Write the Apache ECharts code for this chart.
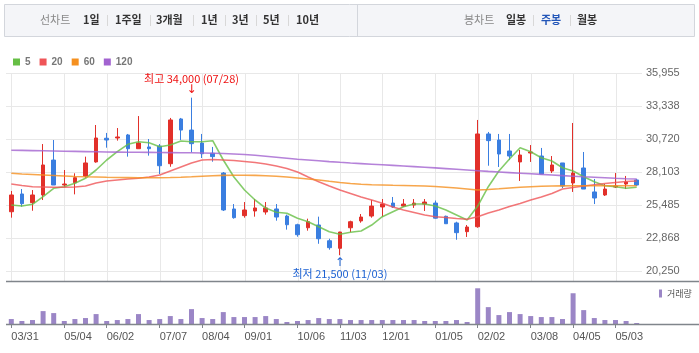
<!DOCTYPE html>
<html><head><meta charset="utf-8">
<script src="https://cdn.jsdelivr.net/npm/echarts@6/dist/echarts.min.js"></script>
<style>html,body{margin:0;padding:0;background:#fff}#c{width:699px;height:353px}</style>
</head><body><div id="c"></div>
<script>
const categories = ['03/31','04/07','04/14','04/21','04/28','05/04','05/12','05/19','05/26','06/02',
  '06/09','06/16','06/23','06/30','07/07','07/14','07/21','07/28','08/04','08/11',
  '08/18','08/25','09/01','09/08','09/15','09/22','09/29','10/06','10/13','10/20',
  '10/27','11/03','11/10','11/17','11/24','12/01','12/08','12/15','12/22','12/29',
  '01/05','01/12','01/19','01/26','02/02','02/09','02/16','02/23','03/02','03/08',
  '03/16','03/23','03/30','04/05','04/13','04/20','04/27','05/03','05/11','05/18'];
const tickIdx = [0,5,9,14,18,22,27,31,35,40,44,49,53,57];

const opens  = [24950,26360,25670,26280,29050,27070,27250,27780,28900,30780,
  30800,31040,29950,30090,30160,28760,32310,31430,30400,29590,
  28020,25170,24640,25010,24930,25170,24610,23920,23680,23900,
  22650,22050,23680,24220,24610,25330,25640,25400,25480,25560,
  25640,24590,24060,23370,23760,31120,30640,29770,28900,29610,
  29370,28180,28820,27230,28420,26520,26280,26910,27150,27470];
const closes = [26280,25590,26280,28660,27070,27150,27650,28820,30800,30640,
  30880,29950,30400,29950,28600,32230,31430,30350,29550,29320,
  25090,24480,25090,25250,25250,24530,23920,23130,24160,22810,
  22100,23340,24160,24530,25400,25560,25330,25560,25640,25720,
  24440,24000,23290,23740,31120,30590,29530,29370,29450,29690,
  27940,28660,26990,28020,26750,26040,26750,26990,27310,27070];
const lows   = [24480,25350,25030,25880,27070,26890,26330,27650,28840,30030,
  30590,29320,29950,29400,27940,28520,30640,29670,29210,28920,
  25010,24400,24480,24560,24720,24240,23530,22970,23450,22410,
  21940,21500,23340,24080,24480,24560,25250,25330,25250,25010,
  24400,24000,22730,22950,23680,28600,28500,29050,27390,28900,
  27940,28020,26830,26520,26750,25560,26200,26830,26750,26990];
const highs  = [26600,26750,26670,30320,30640,28260,28000,29320,31830,31200,
  31590,31120,32540,30720,30320,32390,32390,34000,31120,30090,
  28100,25560,25720,25960,25720,25560,24720,24000,24400,24560,
  22810,23360,24240,24770,25880,25960,26120,25960,25960,25960,
  25840,24640,24160,23900,32230,31280,31120,31120,29850,30240,
  30010,29370,28820,31990,29690,27550,27150,28020,27790,27550];

const ma5 = [25484,25405,25540,26143,26809,26936,27206,27602,28261,29054,
  29712,30299,30505,30426,30109,30244,30561,30505,30505,30585,
  29054,27705,26674,25881,25246,24905,24826,24429,24160,23763,
  23367,23160,23319,23422,23898,24556,24953,25350,25564,25564,
  25405,25088,24691,24295,25400,26936,28181,29133,30029,29712,
  29236,28974,28443,28181,27729,27332,27015,26936,26809,26888];
const ma20 = [27150,27031,26936,26912,26888,26888,26912,26991,27229,27388,
  27467,27547,27602,27705,27864,28181,28499,28816,29054,29093,
  29054,29014,28935,28855,28737,28578,28380,28102,27705,27332,
  26991,26674,26397,26119,25881,25619,25326,25088,24889,24691,
  24556,24492,24414,24350,24556,24850,25088,25365,25603,25881,
  26119,26397,26754,26872,26991,27095,27190,27269,27348,27388];
const ma60 = [27999,27943,27904,27864,27824,27785,27745,27721,27705,27682,
  27666,27658,27650,27650,27650,27666,27690,27721,27761,27801,
  27832,27840,27840,27832,27801,27761,27705,27626,27547,27467,
  27364,27269,27190,27134,27095,27071,27047,27031,27015,26991,
  26952,26896,26833,26754,26674,26714,26769,26833,26888,26936,
  26968,26991,26999,27007,27007,27007,27015,27015,27015,27015];
const ma120 = [29831,29815,29799,29784,29768,29752,29736,29720,29704,29688,
  29680,29672,29665,29657,29649,29641,29633,29625,29609,29593,
  29569,29530,29490,29427,29355,29276,29197,29117,29054,28990,
  28927,28871,28816,28768,28721,28673,28626,28578,28530,28483,
  28427,28372,28316,28261,28205,28150,28102,28054,28007,27959,
  27912,27864,27816,27769,27721,27682,27642,27602,27571,27547];

const volumes = [150,90,120,390,330,90,150,180,300,90,
  120,150,300,120,150,240,150,450,180,150,
  360,210,210,210,240,150,60,90,120,180,
  150,150,120,120,120,120,120,120,120,90,
  90,90,120,60,1080,510,270,360,300,240,
  210,210,150,930,420,180,120,120,90,30];

const yTickLabels = ['35,955','33,338','30,720','28,103','25,485','22,868','20,250'];
const maNames = ['5','20','60','120'];
const maColors = ['#66bf45','#ef5558','#f5901f','#a263d0'];
const maData = [ma5, ma20, ma60, ma120];

const candleData = opens.map((o, i) => [o, closes[i], lows[i], highs[i]]);
const FONT = 'Liberation Sans, Arial, sans-serif';
const KFONT = 'Noto Sans CJK KR, sans-serif';

const chart = echarts.init(document.getElementById('c'));

const toolbarItems = [
  ['선차트', 40, '#888', 'normal'], ['1일', 83, '#333', 'bold'], ['1주일', 115, '#333', 'bold'],
  ['3개월', 156, '#333', 'bold'], ['1년', 201, '#333', 'bold'], ['3년', 232, '#333', 'bold'],
  ['5년', 263, '#333', 'bold'], ['10년', 296, '#333', 'bold'],
  ['봉차트', 464, '#888', 'normal'], ['일봉', 506, '#333', 'bold'], ['주봉', 541, '#2256b8', 'bold'],
  ['월봉', 577, '#333', 'bold']
];
const seps = [107, 150, 193, 225, 256, 288, 533, 570];

const graphic = [
  {type: 'rect', silent: true, shape: {x: 4.5, y: 4.5, width: 690, height: 32},
   style: {fill: '#f4f5f8', stroke: '#d3d6dc', lineWidth: 1}},
  {type: 'line', silent: true, shape: {x1: 357.5, y1: 5, x2: 357.5, y2: 36}, style: {stroke: '#d3d6dc'}},
  ...seps.map(x => ({type: 'line', silent: true, shape: {x1: x + 0.5, y1: 15, x2: x + 0.5, y2: 26},
    style: {stroke: '#d8d8d8'}})),
  ...toolbarItems.map(t => ({type: 'text', silent: true, x: t[1], y: 20,
    style: {text: t[0], fill: t[2], font: t[3] + ' 11px ' + KFONT, textVerticalAlign: 'middle', verticalAlign: 'middle'}})),
  {type: 'line', silent: true, z: 10, shape: {x1: 6, y1: 281.5, x2: 699, y2: 281.5}, style: {stroke: '#80858b', lineWidth: 1.5}},
  {type: 'line', silent: true, z: 10, shape: {x1: 6, y1: 324.5, x2: 699, y2: 324.5}, style: {stroke: '#80858b', lineWidth: 1.5}}
];

const option = {
  animation: false,
  backgroundColor: '#fff',
  graphic: graphic,
  legend: [
    {data: maNames, left: 13, top: 57, padding: 0, itemWidth: 7, itemHeight: 7, itemGap: 9, icon: 'rect',
     textStyle: {color: '#777', fontSize: 10, fontWeight: 'bold', fontFamily: FONT}},
    {data: ['거래량'], left: 659, top: 289, padding: 0, itemWidth: 3, itemHeight: 8, icon: 'rect',
     textStyle: {color: '#555', fontSize: 9, fontFamily: KFONT}}
  ],
  grid: [
    {left: 6, right: 57, top: 73, height: 208},
    {left: 6, right: 57, top: 282, height: 42}
  ],
  xAxis: [
    {type: 'category', gridIndex: 0, data: categories, boundaryGap: true,
     axisLine: {show: false}, axisTick: {show: false}, axisLabel: {show: false}, splitLine: {show: false}},
    {type: 'category', gridIndex: 1, data: categories, boundaryGap: true,
     axisLine: {show: false},
     axisTick: {show: true, alignWithLabel: true, length: 4, interval: (i) => tickIdx.includes(i),
       lineStyle: {color: '#80858b'}},
     axisLabel: {show: true, interval: (i) => tickIdx.includes(i), color: '#555', fontSize: 11,
       fontFamily: FONT, margin: 7, align: 'left'},
     splitLine: {show: false}}
  ],
  yAxis: [
    {type: 'value', gridIndex: 0, min: 19457, max: 35955, show: false, splitLine: {show: false}},
    {type: 'value', gridIndex: 0, inverse: true, min: 0, max: 208 / 33, interval: 1, position: 'right',
     axisLine: {show: false}, axisTick: {show: false},
     axisLabel: {color: '#666', fontSize: 11, fontFamily: FONT, margin: 4,
       formatter: (v) => (Math.abs(v - Math.round(v)) < 1e-6 && Math.round(v) < yTickLabels.length) ? yTickLabels[Math.round(v)] : ''},
     splitLine: {show: true, lineStyle: {color: '#e8e8e8', width: 1}}},
    {type: 'value', gridIndex: 1, min: 0, max: 1270, show: false, splitLine: {show: false}}
  ],
  series: [
    {type: 'custom', name: 'vgrid', xAxisIndex: 0, yAxisIndex: 0, z: 1, silent: true,
     data: tickIdx.map(i => [i, 30000]),
     renderItem: (params, api) => {
       const cs = params.coordSys;
       const x = Math.round(api.coord([api.value(0), api.value(1)])[0]) + 0.5;
       return {type: 'line', shape: {x1: x, y1: cs.y, x2: x, y2: cs.y + cs.height},
         style: {stroke: '#e8e8e8', lineWidth: 1}};
     }},
    {type: 'candlestick', name: 'price', xAxisIndex: 0, yAxisIndex: 0, z: 3, barWidth: 4,
     data: candleData,
     itemStyle: {color: '#e2302a', color0: '#3a7ee0', borderColor: '#e2302a', borderColor0: '#3a7ee0', borderWidth: 1},
     markPoint: {
       symbol: 'rect', symbolSize: 1, itemStyle: {color: 'rgba(0,0,0,0)'},
       data: [
         {coord: [categories[17], 34000],
          label: {show: true, position: 'top', distance: 2,
            formatter: '{t|최고 34,000 (07/28)}\n{a|↓}',
            rich: {t: {color: '#ee1111', fontSize: 11, fontFamily: KFONT, lineHeight: 13, align: 'center'},
                   a: {color: '#ee1111', fontSize: 12, fontFamily: 'DejaVu Sans', lineHeight: 10, align: 'center'}}}},
         {coord: [categories[31], 21500],
          label: {show: true, position: 'bottom', distance: 2,
            formatter: '{a|↑}\n{t|최저 21,500 (11/03)}',
            rich: {t: {color: '#1d62d3', fontSize: 11, fontFamily: KFONT, lineHeight: 13, align: 'center'},
                   a: {color: '#1d62d3', fontSize: 12, fontFamily: 'DejaVu Sans', lineHeight: 10, align: 'center'}}}}
       ]
     }},
    ...maNames.map((n, k) => ({
      type: 'line', name: n, xAxisIndex: 0, yAxisIndex: 0, z: 4 + k, data: maData[k],
      symbol: 'none', smooth: false, silent: true,
      itemStyle: {color: maColors[k]},
      lineStyle: {color: maColors[k], width: 1.6, opacity: 0.8}
    })),
    {type: 'bar', name: '거래량', xAxisIndex: 1, yAxisIndex: 2, barWidth: 5, data: volumes,
     itemStyle: {color: '#9b86c6'}}
  ]
};
chart.setOption(option);
</script>
</body></html>
